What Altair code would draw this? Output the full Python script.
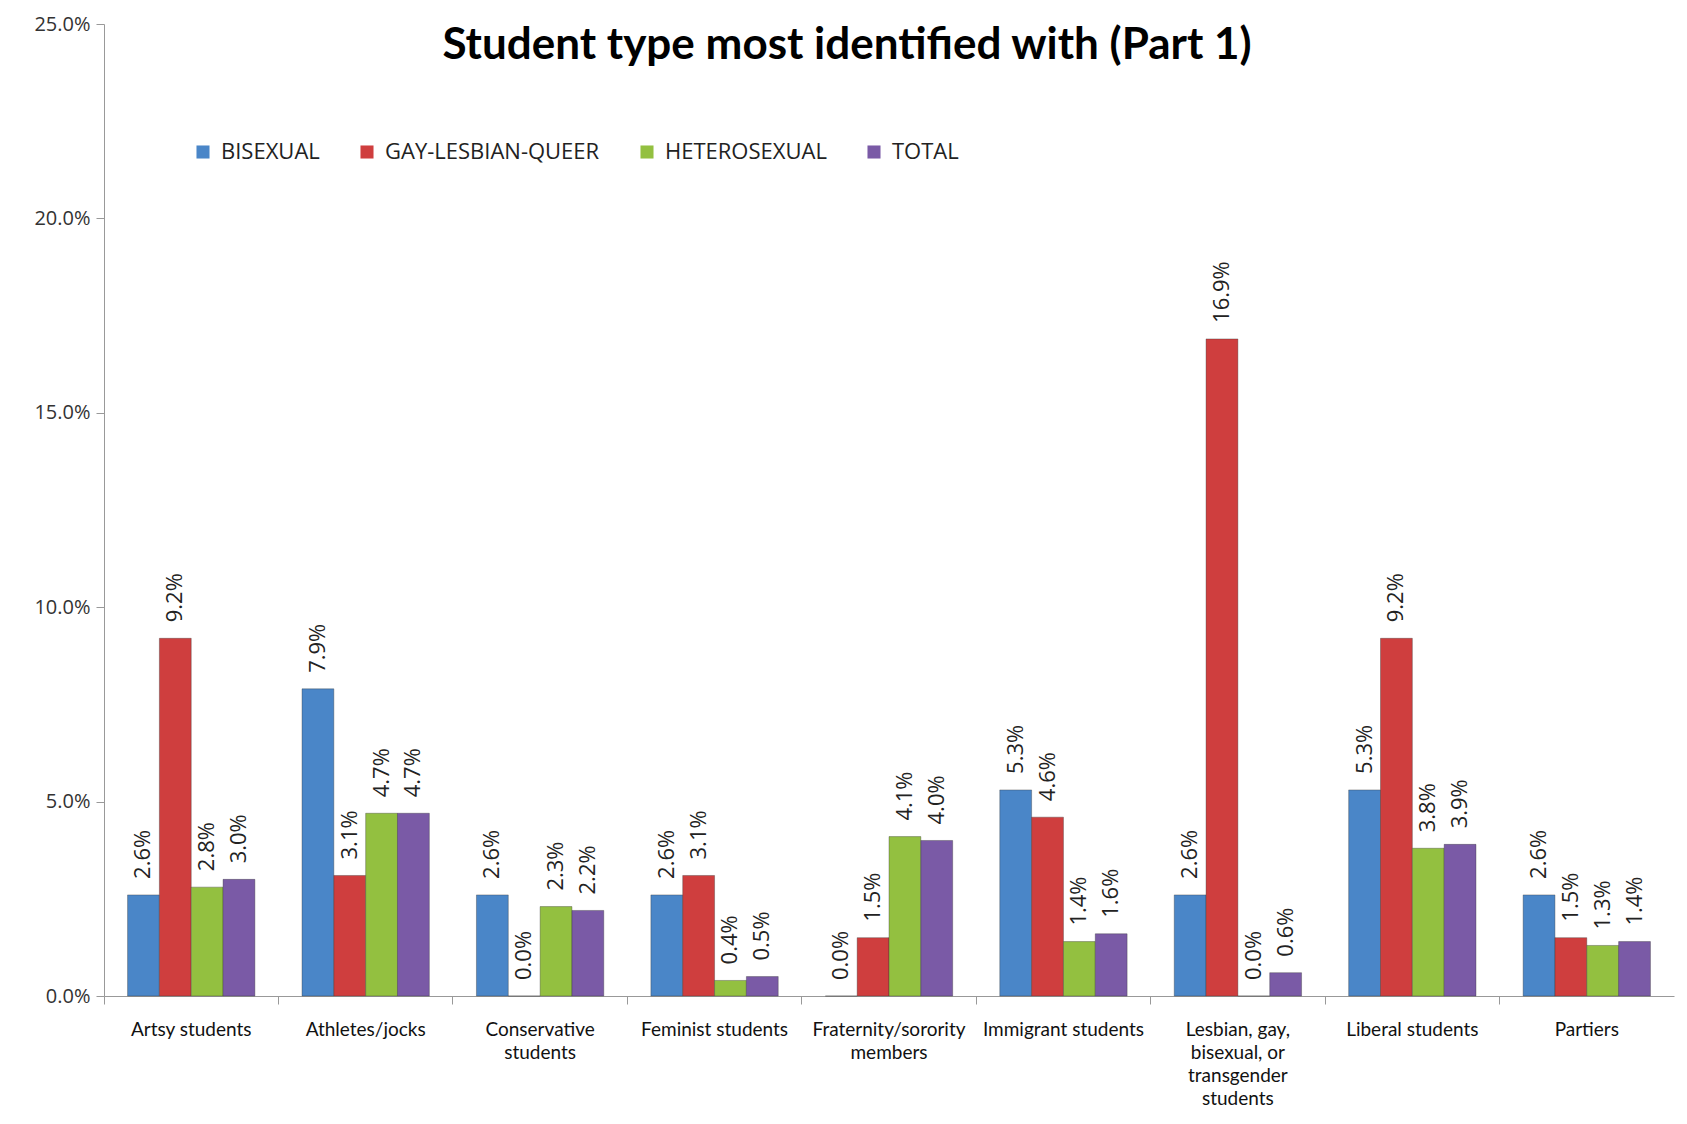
import altair as alt
import pandas as pd

categories = [
    "Artsy students",
    "Athletes/jocks",
    "Conservative students",
    "Feminist students",
    "Fraternity/sorority members",
    "Immigrant students",
    "Lesbian, gay, bisexual, or transgender students",
    "Liberal students",
    "Partiers",
]
series = ["BISEXUAL", "GAY-LESBIAN-QUEER", "HETEROSEXUAL", "TOTAL"]
bisexual = [0.026, 0.079, 0.026, 0.026, 0.000, 0.053, 0.026, 0.053, 0.026]
gay_lesbian_queer = [0.092, 0.031, 0.000, 0.031, 0.015, 0.046, 0.169, 0.092, 0.015]
heterosexual = [0.028, 0.047, 0.023, 0.004, 0.041, 0.014, 0.000, 0.038, 0.013]
total = [0.030, 0.047, 0.022, 0.005, 0.040, 0.016, 0.006, 0.039, 0.014]
colors = ["#4A86C8", "#CF3E3E", "#93C040", "#7A5AA6"]
wrapped = {
    "Conservative students": ["Conservative", "students"],
    "Fraternity/sorority members": ["Fraternity/sorority", "members"],
    "Lesbian, gay, bisexual, or transgender students": ["Lesbian, gay,", "bisexual, or", "transgender", "students"],
}

rows = []
for s, vals in zip(series, [bisexual, gay_lesbian_queer, heterosexual, total]):
    for c, v in zip(categories, vals):
        rows.append({"category": c, "series": s, "value": v})
df = pd.DataFrame(rows)

expr = "datum.label"
for k, lines in wrapped.items():
    arr = "[" + ",".join("'" + l + "'" for l in lines) + "]"
    expr = f"datum.value == '{k}' ? {arr} : ({expr})"

x = alt.X("category:N", sort=categories, title=None,
          scale=alt.Scale(paddingInner=0, paddingOuter=0),
          axis=alt.Axis(labelAngle=0, labelExpr=expr, bandPosition=0,
                        labelFont="Lato", labelFontSize=19, labelColor="#111",
                        labelLineHeight=23, labelPadding=16, tickSize=8,
                        tickColor="#999", domainColor="#999", labelLimit=300))
xoff = alt.XOffset("series:N", sort=series,
                   scale=alt.Scale(paddingInner=0, paddingOuter=0.74))
y = alt.Y("value:Q", title=None,
          scale=alt.Scale(domain=[0, 0.25], nice=False),
          axis=alt.Axis(format=".1%", values=[0, 0.05, 0.10, 0.15, 0.20, 0.25],
                        grid=False, labelFont="Open Sans", labelFontSize=20,
                        labelColor="#333", tickSize=8, tickColor="#999",
                        domainColor="#999", labelPadding=6))
color = alt.Color("series:N", sort=series, title=None,
                  scale=alt.Scale(domain=series, range=colors),
                  legend=alt.Legend(orient="none", legendX=88, legendY=117,
                                    direction="horizontal", columns=4,
                                    symbolType="square", symbolSize=170,
                                    symbolStrokeWidth=0, labelLimit=400,
                                    labelFont="Open Sans", labelFontSize=22,
                                    labelColor="#222", columnPadding=36,
                                    labelOffset=7))

base = alt.Chart(df).encode(x=x, xOffset=xoff, y=y)
bars = base.mark_bar(stroke="#333", strokeWidth=0.6, strokeOpacity=0.6).encode(color=color)
labels = base.mark_text(angle=270, align="left", baseline="middle", dx=16,
                        font="Open Sans", fontSize=22, color="#222").encode(
    text=alt.Text("value:Q", format=".1%"))

chart = alt.layer(bars, labels).properties(
    width=1570, height=972,
    padding={"left": 96, "top": 16, "right": 2, "bottom": 116},
    autosize=alt.AutoSizeParams(type="none"),
    title=alt.TitleParams("Student type most identified with (Part 1)",
                          font="Lato", fontSize=44, fontWeight="bold",
                          color="#000", anchor="middle", dx=-42, dy=58),
).configure_view(stroke=None)

chart.save("out.html", embed_options={"renderer": "svg", "actions": False})
